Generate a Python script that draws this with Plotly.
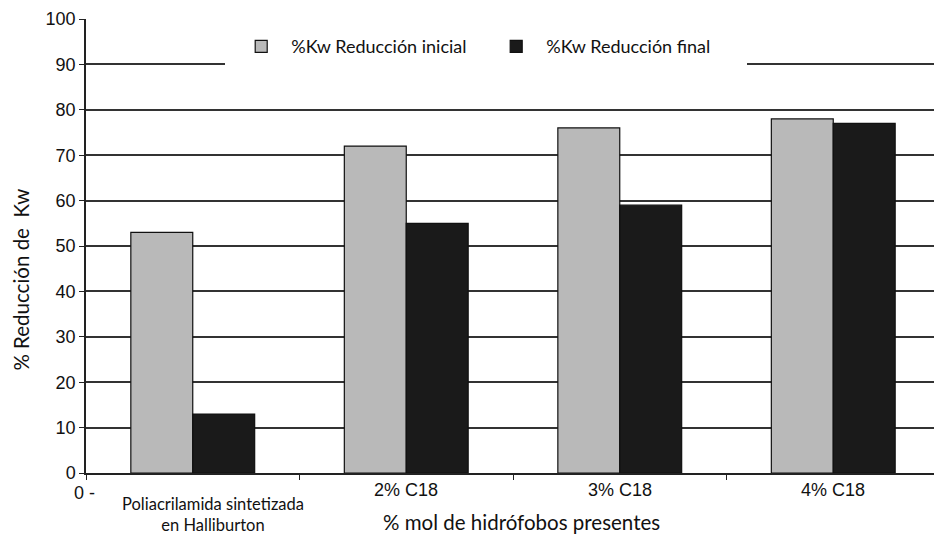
import plotly.graph_objects as go

categories = ["Poliacrilamida", "2% C18", "3% C18", "4% C18"]
cat_labels = ["Poliacrilamida sintetizada<br>en Halliburton", "2% C18", "3% C18", "4% C18"]
inicial = [53, 72, 76, 78]
final = [13, 55, 59, 77]
series_names = ["%Kw Reducción inicial", "%Kw Reducción final"]
y_ticks = list(range(0, 101, 10))

ARIAL = "Liberation Sans, Arial, sans-serif"
CALIBRI = "Lato, Carlito, sans-serif"

fig = go.Figure()
fig.add_trace(go.Bar(x=categories, y=inicial, name=series_names[0],
                     marker=dict(color="#b9b9b9", line=dict(color="#111", width=1.2))))
fig.add_trace(go.Bar(x=categories, y=final, name=series_names[1],
                     marker=dict(color="#1a1a1a", line=dict(color="#111", width=1.2))))

annotations = []
for i, (c, lab) in enumerate(zip(categories, cat_labels)):
    if i == 0:
        annotations.append(dict(x=c, y=-0.0925, xref="x", yref="paper", text=lab, showarrow=False,
                                xanchor="center", yanchor="middle", xshift=20,
                                font=dict(family=CALIBRI, size=16.5, color="#111")))
    else:
        annotations.append(dict(x=c, y=-0.037, xref="x", yref="paper", text=lab, showarrow=False,
                                xanchor="center", yanchor="middle",
                                font=dict(family=ARIAL, size=18, color="#111")))
annotations.append(dict(x=-0.002, y=-0.044, xref="paper", yref="paper", text="0 -", showarrow=False,
                        xanchor="center", yanchor="middle", font=dict(family=ARIAL, size=18, color="#111")))
annotations.append(dict(x=0.5105, y=-0.108, xref="paper", yref="paper", text="% mol de hidrófobos presentes",
                        showarrow=False, xanchor="center", yanchor="middle",
                        font=dict(family=CALIBRI, size=20.5, color="#111")))
annotations.append(dict(x=-0.0755, y=0.425, xref="paper", yref="paper", text="% Reducción de  Kw",
                        showarrow=False, textangle=-90, xanchor="center", yanchor="middle",
                        font=dict(family=CALIBRI, size=20.5, color="#111")))

fig.update_layout(
    width=934, height=532,
    margin=dict(l=78, r=2, t=11, b=67),
    paper_bgcolor="white", plot_bgcolor="white",
    barmode="group", bargap=0.42, bargroupgap=0,
    showlegend=True,
    legend=dict(orientation="h", x=0.163, y=0.993, xanchor="left", yanchor="top",
                bgcolor="white", bordercolor="white", borderwidth=6,
                font=dict(family=CALIBRI, size=18, color="#111"),
                itemwidth=50, entrywidth=190, entrywidthmode="pixels", traceorder="normal"),
    annotations=annotations,
    xaxis=dict(type="category", range=[-0.5, 3.5], showticklabels=False, tickson="boundaries",
               ticks="outside", ticklen=5, tickcolor="#222", showline=True, linecolor="#222",
               linewidth=1.5, showgrid=False),
    yaxis=dict(range=[0, 100], tickvals=y_ticks, ticks="outside", ticklen=5, tickcolor="#222",
               showline=True, linecolor="#222", linewidth=1.5, showgrid=True, gridcolor="#333",
               gridwidth=1.5, zeroline=False, tickfont=dict(family=ARIAL, size=18, color="#111")),
)

fig.write_html("out.html")
